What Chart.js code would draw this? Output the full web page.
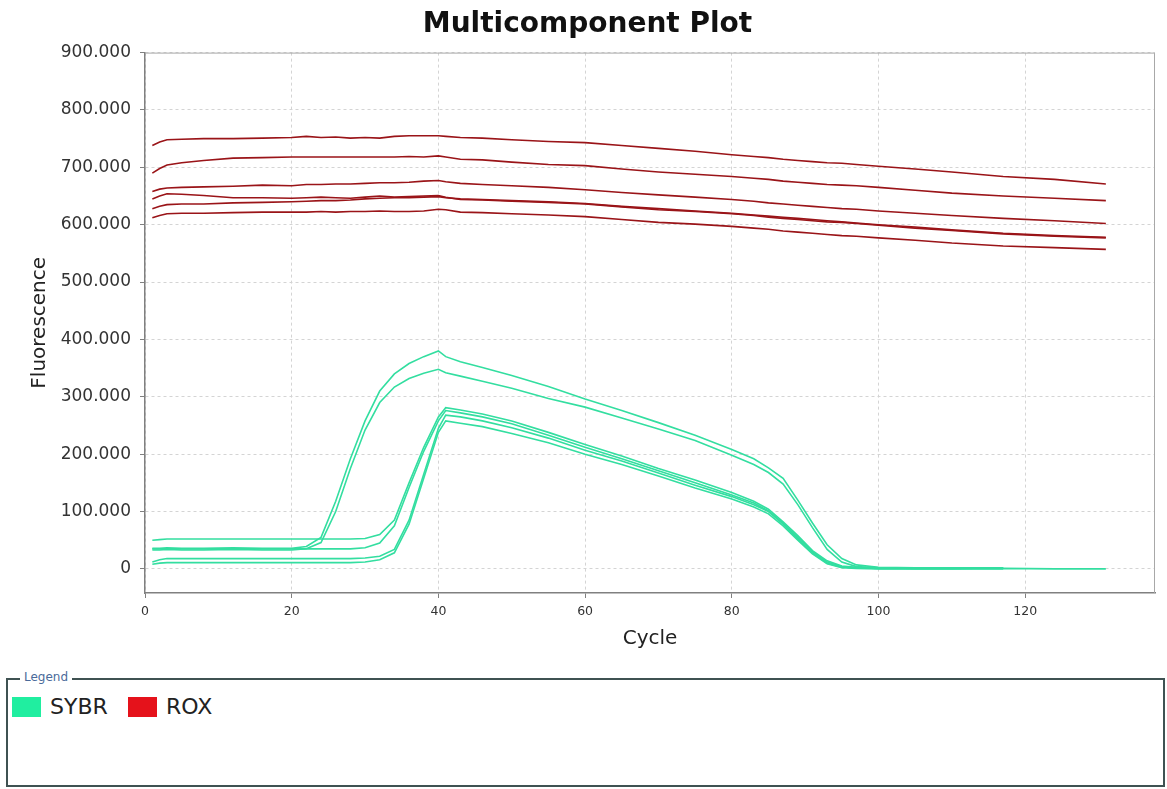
<!DOCTYPE html>
<html>
<head>
<meta charset="utf-8">
<script src="https://cdn.jsdelivr.net/npm/chart.js@4.4.1/dist/chart.umd.min.js"></script>
<style>
  body { margin: 0; background: #fff; font-family: "DejaVu Sans", sans-serif; }
  #wrap { position: relative; width: 1167px; height: 670px; }
  #legendBox { position: absolute; left: 6px; top: 678px; width: 1155px; height: 105px; border: 2px solid #3f5252; }
  #legendTitle { position: absolute; left: 20px; top: 670px; font-size: 12px; color: #4a6a9a; background: #fff; padding: 0 4px; }
  .item { position: absolute; top: 697px; font-size: 22px; color: #222; line-height: 20px; }
  .sw { position: absolute; top: 697px; width: 29px; height: 20px; }
</style>
</head>
<body>
<div id="wrap"><canvas id="chart"></canvas></div>
<div id="legendBox"></div>
<div id="legendTitle">Legend</div>
<div class="sw" style="left:12px;background:#20eea0"></div>
<div class="item" style="left:50px">SYBR</div>
<div class="sw" style="left:128px;background:#e5121b"></div>
<div class="item" style="left:166px">ROX</div>
<script>
const cycles = [1,2,3,5,8,12,16,20,22,24,26,28,30,32,34,36,38,40,41,43,46,50,55,60,65,70,75,80,83,85,87,89,91,93,95,97,100,105,110,117,124,131];

const xTicks = [0,20,40,60,80,100,120];
const yTicks = [0,100,200,300,400,500,600,700,800,900];

// ROX wells
const rox1 = [738,744,748,749,750,750,751,752,754,752,753,751,752,751,754,755,755,755,754,752,751,748,745,743,738,733,728,722,719,717,714,712,710,708,707,705,702,697,692,684,679,671];
const rox2 = [690,698,704,708,712,716,717,718,718,718,718,718,718,718,718,719,718,720,718,714,713,709,705,703,697,692,688,684,681,679,676,674,672,670,669,668,665,660,655,650,646,642];
const rox3 = [658,662,664,665,666,667,669,668,670,670,671,671,672,673,673,674,676,677,675,672,670,668,665,661,656,652,648,644,641,638,636,634,632,630,628,627,624,620,616,611,607,602];
const rox4 = [645,650,654,653,651,647,647,646,647,648,647,646,648,650,648,649,650,651,648,644,643,641,639,636,631,626,623,619,616,613,611,609,607,605,604,602,599,594,590,584,580,577];
const rox5 = [628,632,635,636,636,638,639,640,641,642,642,643,645,646,647,647,648,649,647,645,644,642,640,637,632,628,624,620,617,615,613,611,609,607,605,603,600,596,591,585,581,578];
const rox6 = [612,616,619,620,620,621,622,622,622,623,622,623,623,624,623,623,624,627,626,622,621,619,617,614,609,604,601,597,594,592,589,587,585,583,581,580,577,573,568,563,560,557];

// SYBR wells
const sybr1 = [36,36,37,36,36,37,36,36,39,55,118,192,258,310,340,358,370,380,370,361,351,337,318,296,276,255,233,208,192,176,158,120,80,42,18,7,3,2,2,2,null,null];
const sybr2 = [33,33,34,33,33,34,33,33,35,46,100,175,242,290,317,332,341,348,342,336,327,315,297,282,263,244,224,198,182,168,148,112,72,34,12,4,2,1,1,1,null,null];
const sybr3 = [50,51,52,52,52,52,52,52,52,52,52,52,53,60,85,150,212,265,281,277,270,258,238,217,197,175,155,133,118,104,82,58,32,14,5,3,2,1,1,1,null,null];
const sybr4 = [35,35,35,35,35,35,35,35,35,35,35,35,37,45,75,142,205,258,276,272,265,253,233,212,192,171,150,129,115,101,80,55,30,12,4,2,1,1,1,1,null,null];
const sybr5 = [12,16,18,18,18,18,18,18,18,18,18,18,19,22,34,85,165,245,268,265,258,246,228,207,188,167,146,126,112,100,78,52,28,10,3,2,1,1,1,1,null,null];
const sybr6 = [8,10,11,11,11,11,11,11,11,11,11,11,12,16,28,78,158,238,258,254,248,236,220,200,182,162,141,122,108,96,75,50,26,9,2,1,0,0,0,1,0,0];

const sybrColor = '#33dea0';
const roxColor = '#9a1418';

function series(vals, color) {
  return {
    data: cycles.map((c, i) => ({ x: c, y: vals[i] })),
    borderColor: color,
    borderWidth: 1.6,
    pointRadius: 0,
    tension: 0,
    fill: false
  };
}

const frame = {
  id: 'frame',
  afterDraw(chart) {
    const a = chart.chartArea, ctx = chart.ctx;
    ctx.save();
    ctx.strokeStyle = '#a8a8a8';
    ctx.lineWidth = 1;
    ctx.beginPath();
    ctx.moveTo(a.left, a.top + 0.5);
    ctx.lineTo(a.right - 0.5, a.top + 0.5);
    ctx.lineTo(a.right - 0.5, a.bottom);
    ctx.stroke();
    ctx.restore();
  }
};

new Chart('chart', {
  type: 'line',
  data: {
    datasets: [
      series(rox1, roxColor), series(rox2, roxColor), series(rox3, roxColor),
      series(rox4, roxColor), series(rox5, roxColor), series(rox6, roxColor),
      series(sybr1, sybrColor), series(sybr2, sybrColor), series(sybr3, sybrColor),
      series(sybr4, sybrColor), series(sybr5, sybrColor), series(sybr6, sybrColor)
    ]
  },
  options: {
    responsive: true,
    maintainAspectRatio: false,
    animation: false,
    layout: { padding: { left: 20, right: 12, top: 0, bottom: 0 } },
    plugins: {
      legend: { display: false },
      tooltip: { enabled: false },
      title: {
        display: true,
        text: 'Multicomponent Plot',
        color: '#111',
        font: { family: 'DejaVu Sans', size: 28, weight: 'bold' },
        padding: { top: 8, bottom: 11 }
      }
    },
    scales: {
      x: {
        type: 'linear',
        min: 0,
        max: 137.7,
        afterBuildTicks: s => { s.ticks = xTicks.map(v => ({ value: v })); },
        afterFit: s => { s.height = 77; },
        ticks: {
          color: '#333',
          font: { family: 'DejaVu Sans', size: 12.5 },
          padding: 6,
          maxRotation: 0
        },
        grid: {
          color: '#d4d4d4',
          tickLength: 5,
          tickColor: '#808080',
          tickBorderDash: []
        },
        border: { color: '#808080', width: 1.5, dash: [3, 3] },
        title: {
          display: true,
          text: 'Cycle',
          color: '#222',
          font: { family: 'DejaVu Sans', size: 20 },
          padding: { top: 0, bottom: 19 }
        }
      },
      y: {
        min: -42,
        max: 900,
        afterBuildTicks: s => { s.ticks = yTicks.map(v => ({ value: v })); },
        afterFit: s => { s.width = 125; },
        ticks: {
          color: '#333',
          font: { family: 'DejaVu Sans', size: 17 },
          padding: 9,
          callback: v => v === 0 ? '0' : v.toFixed(3)
        },
        grid: {
          color: '#d4d4d4',
          tickLength: 5,
          tickColor: '#808080',
          tickBorderDash: []
        },
        border: { color: '#808080', width: 1.5, dash: [3, 3] },
        title: {
          display: true,
          text: 'Fluorescence',
          color: '#222',
          font: { family: 'DejaVu Sans', size: 20 },
          padding: { top: 8, bottom: 0 }
        }
      }
    }
  },
  plugins: [frame]
});
</script>
</body>
</html>
